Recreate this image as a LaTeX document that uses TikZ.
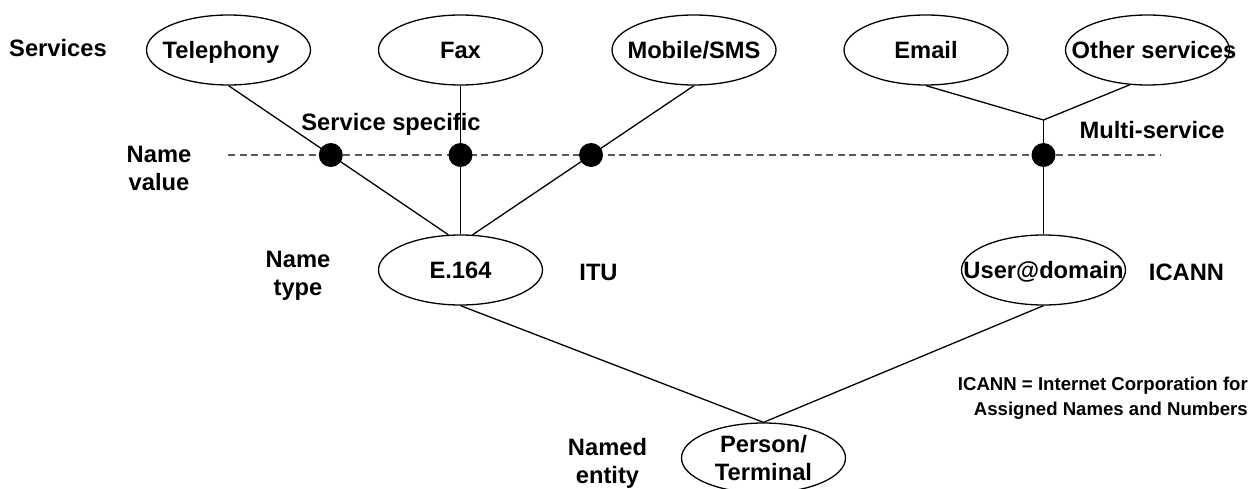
\documentclass[tikz,border=0pt]{standalone}
\usepackage{fontspec}
\setmainfont{Liberation Sans}
\usetikzlibrary{shapes.geometric,intersections}
\definecolor{dashgray}{HTML}{5A5A5A}
\begin{document}
\begin{tikzpicture}[x=1pt,y=-1pt,
  every node/.style={font=\bfseries\fontsize{23.7}{28}\selectfont, inner sep=0pt},
  ell/.style={draw, ellipse, line width=1.3pt, minimum width=164pt, minimum height=70pt},
  one/.style={text height=17.2pt, text depth=0pt},
  conn/.style={line width=1.3pt},
  dashln/.style={dashgray, line width=1.2pt, dash pattern=on 7pt off 4.5pt},
  dot/.style={circle, fill=black, minimum size=24pt},
  lbl/.style={anchor=base, align=center},
  note/.style={anchor=base east, align=right, font=\bfseries\fontsize{18.6}{25}\selectfont},
]
\useasboundingbox[fill=white] (0,0) rectangle (1253,489);

% services
\node[ell,one] (tel)  at (228.5,50)  {\makebox[0pt]{Telephony\hspace{15pt}}};
\node[ell,one] (fax)  at (460.5,50)  {\makebox[0pt]{Fax}};
\node[ell,one] (mob)  at (694,50)    {\makebox[0pt]{Mobile/SMS}};
\node[ell,one] (mail) at (926,50)    {\makebox[0pt]{Email}};
\node[ell,one] (oth)  at (1147.5,50) {\makebox[0pt]{\hspace{13pt}Other services}};

% name types and entity
\node[ell,one] (e164) at (460.5,270)  {\makebox[0pt]{E.164}};
\node[ell,one] (ud)   at (1043.5,270) {\makebox[0pt]{User@domain}};
\node[ell,align=center] (per) at (763.5,458) {Person/\\Terminal};

% row labels (base = baseline of the last line)
\node[lbl] (lsvc)  at (58,57)    {Services};
\node[lbl] (lspec) at (391,131)  {Service specific};
\node[lbl] (lmult) at (1152,139) {Multi-service};
\node[lbl] (lval)  at (159,191)  {Name\\value};
\node[lbl] (ltype) at (298,295)  {Name\\type};
\node[lbl] (litu)  at (598.5,280) {ITU};
\node[lbl] (lican) at (1186.5,280) {ICANN};
\node[lbl] (lent)  at (607.5,483) {Named\\entity};
\node[note] (lnote) at (1248,415) {ICANN = Internet Corporation for\\Assigned Names and Numbers};

% name-value level
\coordinate (dl) at (228,155);
\coordinate (dr) at (1160,155);
\coordinate (join) at (1043.5,120);
\draw[dashln, name path=dash] (dl) -- (dr);

\draw[conn, name path=ltel] (tel.south) -- (e164.109);
\draw[conn, name path=lfax] (fax.south) -- (e164.north);
\draw[conn, name path=lmob] (mob.south) -- (e164.71);
\draw[conn] (mail.south) -- (join);
\draw[conn] (oth.243) -- (join);
\draw[conn, name path=lmul] (join) -- (ud.north);
\draw[conn] (e164.south) -- (per.north);
\draw[conn] (ud.south) -- (per.north);

\path[name intersections={of=ltel and dash}] node[dot] (d1) at (intersection-1) {};
\path[name intersections={of=lfax and dash}] node[dot] (d2) at (intersection-1) {};
\path[name intersections={of=lmob and dash}] node[dot] (d3) at (intersection-1) {};
\path[name intersections={of=lmul and dash}] node[dot] (d4) at (intersection-1) {};
\end{tikzpicture}
\end{document}
